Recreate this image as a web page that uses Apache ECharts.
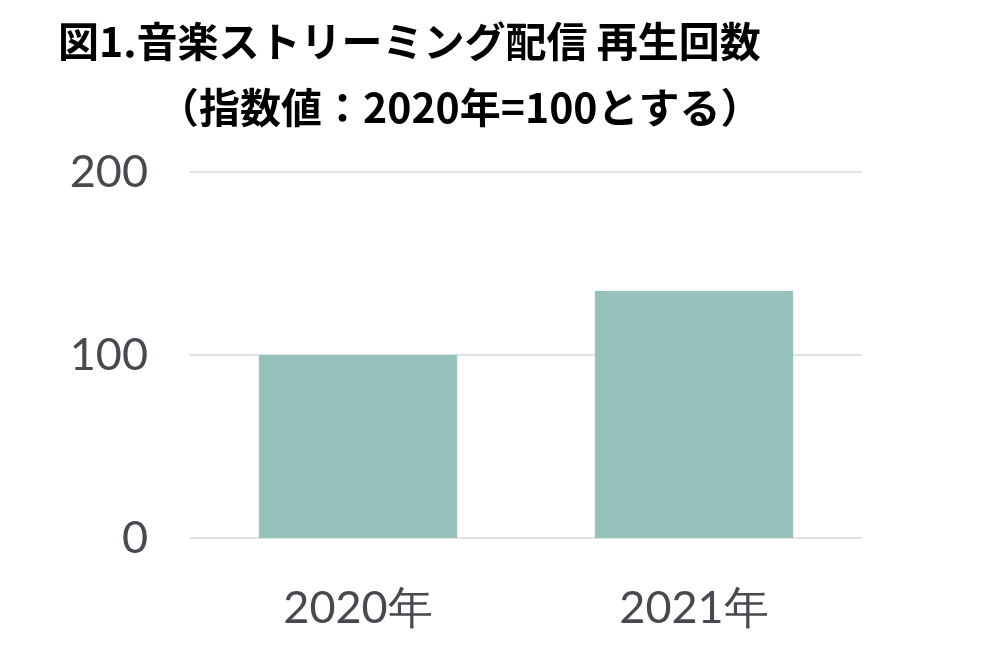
<!DOCTYPE html>
<html>
<head>
<meta charset="utf-8">
<script src="https://cdn.jsdelivr.net/npm/echarts@6/dist/echarts.min.js"></script>
<style>
html,body{margin:0;padding:0;background:#fff;}
#c{width:999px;height:653px;}
</style>
</head>
<body>
<div id="c"></div>
<script>
const categories = ['2020年', '2021年'];
const values = [100, 135];
const yTicks = { min: 0, max: 200, interval: 100 };
const titleLine1 = '図1.音楽ストリーミング配信 再生回数';
const titleLine2 = '（指数値：2020年=100とする）';

const titleStyle = {
  fontFamily: '"Noto Sans CJK JP", sans-serif',
  fontWeight: 'bold',
  fontSize: 41,
  color: '#000000'
};

const chart = echarts.init(document.getElementById('c'));
chart.setOption({
  backgroundColor: '#ffffff',
  animation: false,
  title: [
    { text: titleLine1, left: 58, top: 21, padding: 0, textStyle: titleStyle },
    { text: titleLine2, left: 158, top: 87, padding: 0, textStyle: titleStyle }
  ],
  grid: { left: 190, right: 137, top: 172, bottom: 115 },
  xAxis: {
    type: 'category',
    data: categories,
    axisLine: { show: false },
    axisTick: { show: false },
    axisLabel: {
      margin: 48,
      fontFamily: 'Lato, sans-serif',
      fontSize: 45,
      color: '#46494d'
    }
  },
  yAxis: {
    type: 'value',
    min: yTicks.min,
    max: yTicks.max,
    interval: yTicks.interval,
    axisLine: { show: false },
    axisTick: { show: false },
    splitLine: { lineStyle: { color: '#e2e2e2', width: 2 } },
    axisLabel: {
      margin: 42,
      fontFamily: 'Lato, sans-serif',
      fontSize: 45,
      color: '#46494d'
    }
  },
  series: [{
    type: 'bar',
    data: values,
    barWidth: '59%',
    itemStyle: { color: '#96c2bc' }
  }]
});
</script>
</body>
</html>
